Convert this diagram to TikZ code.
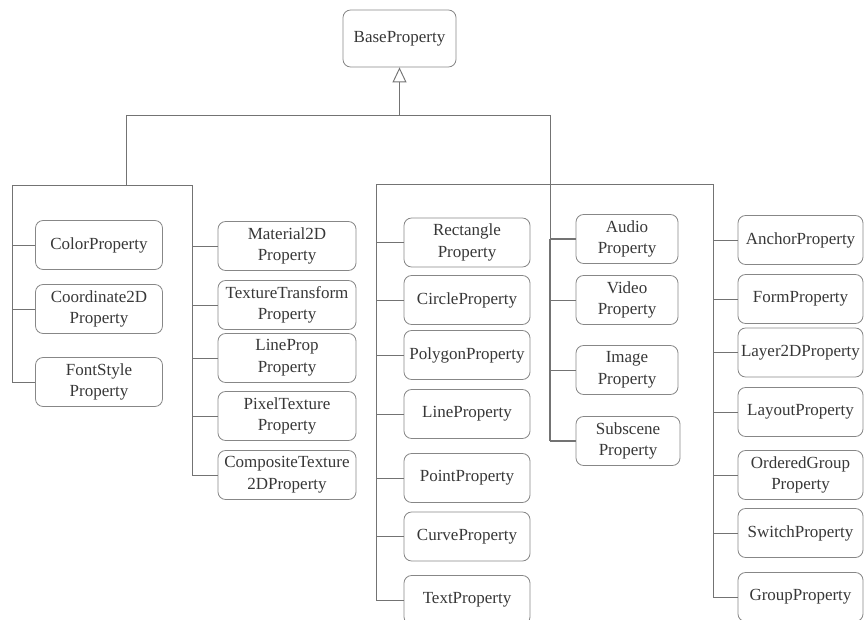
\documentclass[tikz,border=0pt]{standalone}
\usepackage{fontspec}
\setmainfont{Liberation Serif}
\usepackage{xcolor}
\usepackage{tikz}
\usetikzlibrary{arrows.meta}
\definecolor{linegray}{RGB}{115,115,115}
\definecolor{boxgray}{RGB}{135,135,135}
\definecolor{textgray}{RGB}{55,55,55}

\begin{document}
\begin{tikzpicture}[x=0.03cm,y=-0.03cm,
  prop/.style={draw=boxgray,line width=0.7pt,rounded corners=6.5pt,align=center,inner sep=0pt,
    minimum height=1.47cm,text=textgray,font=\fontsize{14.5}{18.5}\selectfont},
  link/.style={draw=linegray,line width=0.8pt}]
\useasboundingbox(0,0)rectangle(864,620);
\clip(0,0)rectangle(864,620);
\node[prop,minimum width=3.39cm,minimum height=1.71cm](base)at(399.5,38.5){BaseProperty};
% first group
\node[prop,minimum width=3.81cm](color)at(99,245){ColorProperty};
\node[prop,minimum width=3.81cm](coord)at(99,309){Coordinate2D\\Property};
\node[prop,minimum width=3.81cm](fontstyle)at(99,382){FontStyle\\Property};
\node[prop,minimum width=4.14cm](material)at(287,246){Material2D\\Property};
\node[prop,minimum width=4.14cm](textrans)at(287,305){TextureTransform\\Property};
\node[prop,minimum width=4.14cm](lineprop)at(287,358){LineProp\\Property};
\node[prop,minimum width=4.14cm](pixel)at(287,416){PixelTexture\\Property};
\node[prop,minimum width=4.14cm](comptex)at(287,475){CompositeTexture\\2DProperty};
% second group
\node[prop,minimum width=3.78cm](rectprop)at(467,242.5){Rectangle\\Property};
\node[prop,minimum width=3.78cm](circprop)at(467,300){CircleProperty};
\node[prop,minimum width=3.78cm](polyprop)at(467,355){PolygonProperty};
\node[prop,minimum width=3.78cm](lineprop2)at(467,414){LineProperty};
\node[prop,minimum width=3.78cm](pointprop)at(467,478){PointProperty};
\node[prop,minimum width=3.78cm](curveprop)at(467,536.5){CurveProperty};
\node[prop,minimum width=3.78cm](textprop)at(467,600){TextProperty};
\node[prop,minimum width=3.06cm](audio)at(627,239){Audio\\Property};
\node[prop,minimum width=3.06cm](video)at(627,300){Video\\Property};
\node[prop,minimum width=3.06cm](image)at(627,370){Image\\Property};
\node[prop,minimum width=3.12cm](subscene)at(628,441){Subscene\\Property};
\node[prop,minimum width=3.75cm](anchor)at(800.5,240){AnchorProperty};
\node[prop,minimum width=3.75cm](form)at(800.5,299){FormProperty};
\node[prop,minimum width=3.75cm](layer)at(800.5,352.5){Layer2DProperty};
\node[prop,minimum width=3.75cm](layout)at(800.5,412){LayoutProperty};
\node[prop,minimum width=3.75cm](ordered)at(800.5,475){OrderedGroup\\Property};
\node[prop,minimum width=3.75cm](switch)at(800.5,533){SwitchProperty};
\node[prop,minimum width=3.75cm](group)at(800.5,597){GroupProperty};
% connectors
\coordinate(top)at(399.5,115);
\coordinate(lt)at(126,115);
\coordinate(rt)at(550,115);
\coordinate(a1)at(12,185);
\coordinate(a2)at(192,185);
\coordinate(b1)at(376,184);
\coordinate(b2)at(713,184);
\draw[link,-{Triangle[open,fill=white,length=4.5mm,width=4.2mm]}](top)--(base);
\draw[link](lt)--(rt);
\draw[link](lt)--(lt|-a1);
\draw[link](a1|-fontstyle.west)--(a1)--(a2)--(a2|-comptex.west);
\draw[link](b1|-textprop.west)--(b1)--(b2)--(b2|-group.west);
\draw[link](rt)--(rt|-audio.west);
\draw[link,line width=1.3pt](rt|-audio.west)--(rt|-subscene.west);
\foreach \n in {color,coord,fontstyle}\draw[link](a1|-\n.west)--(\n.west);
\foreach \n in {material,textrans,lineprop,pixel,comptex}\draw[link](a2|-\n.west)--(\n.west);
\foreach \n in {rectprop,circprop,polyprop,lineprop2,pointprop,curveprop,textprop}\draw[link](b1|-\n.west)--(\n.west);
\foreach \n in {anchor,form,layer,layout,ordered,switch,group}\draw[link](b2|-\n.west)--(\n.west);
\draw[link,line width=1.3pt](rt|-audio.west)--(audio.west);
\draw[link](rt|-video.west)--(video.west);
\draw[link](rt|-image.west)--(image.west);
\draw[link,line width=1.3pt](rt|-subscene.west)--(subscene.west);
\end{tikzpicture}
\end{document}
